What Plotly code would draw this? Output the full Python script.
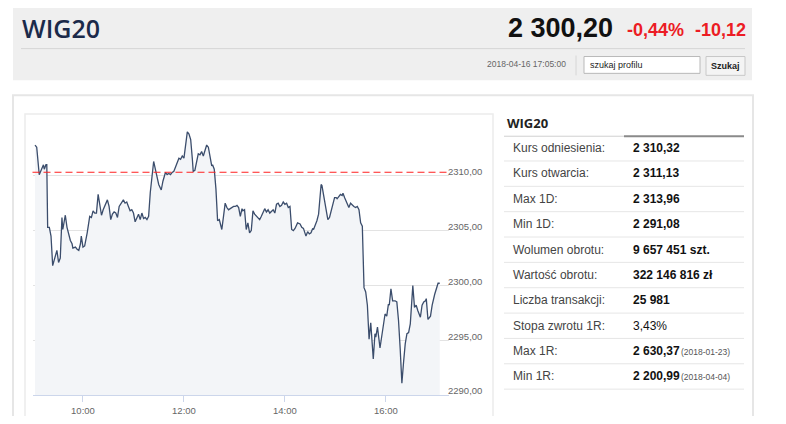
import pandas as pd
import plotly.graph_objects as go

# the page body adds an 8px margin on every side, so the figure is 16px
# smaller than the window and positions below are window pixels shifted by OFF
OFF = 8
W, H = 786 - 2 * OFF, 424 - 2 * OFF

# --- intraday WIG20 quotes, 2018-04-16 ---
times = ["09:03", "09:05", "09:08", "09:11", "09:13", "09:14", "09:16", "09:17", "09:18", "09:20",
         "09:22", "09:24", "09:27", "09:29", "09:31", "09:33", "09:35", "09:36", "09:39", "09:41",
         "09:45", "09:47", "09:48", "09:51", "09:53", "09:55", "09:57", "09:58", "10:00", "10:02",
         "10:05", "10:08", "10:10", "10:12", "10:14", "10:16", "10:18", "10:20", "10:22", "10:24",
         "10:26", "10:29", "10:31", "10:33", "10:35", "10:37", "10:39", "10:41", "10:43", "10:46",
         "10:48", "10:50", "10:52", "10:54", "10:56", "10:58", "11:00", "11:02", "11:04", "11:06",
         "11:08", "11:10", "11:12", "11:14", "11:16", "11:18", "11:20", "11:22", "11:24", "11:26",
         "11:28", "11:30", "11:33", "11:35", "11:38", "11:40", "11:42", "11:44", "11:46", "11:48",
         "11:50", "11:52", "11:54", "11:56", "11:58", "12:00", "12:01", "12:03", "12:04", "12:06",
         "12:08", "12:10", "12:11", "12:13", "12:15", "12:17", "12:19", "12:21", "12:23", "12:25",
         "12:27", "12:29", "12:31", "12:33", "12:34", "12:36", "12:38", "12:40", "12:42", "12:43",
         "12:45", "12:47", "12:49", "12:51", "12:53", "12:55", "12:59", "13:01", "13:03", "13:05",
         "13:07", "13:09", "13:10", "13:12", "13:14", "13:16", "13:18", "13:20", "13:22", "13:24",
         "13:26", "13:28", "13:30", "13:32", "13:34", "13:36", "13:38", "13:40", "13:42", "13:44",
         "13:46", "13:48", "13:50", "13:52", "13:54", "13:56", "13:58", "14:00", "14:02", "14:04",
         "14:06", "14:08", "14:10", "14:12", "14:15", "14:18", "14:20", "14:22", "14:24", "14:25",
         "14:27", "14:29", "14:31", "14:33", "14:34", "14:36", "14:38", "14:40", "14:42", "14:43",
         "14:44", "14:46", "14:48", "14:50", "14:51", "14:53", "14:55", "14:57", "14:59", "15:01",
         "15:02", "15:04", "15:06", "15:08", "15:09", "15:11", "15:13", "15:16", "15:18", "15:20",
         "15:22", "15:24", "15:26", "15:28", "15:30", "15:32", "15:34", "15:36", "15:38", "15:40",
         "15:42", "15:45", "15:47", "15:48", "15:50", "15:53", "15:55", "15:57", "15:59", "16:01",
         "16:03", "16:04", "16:06", "16:08", "16:11", "16:13", "16:15", "16:17", "16:19", "16:21",
         "16:23", "16:25", "16:27", "16:29", "16:32", "16:34", "16:36", "16:38", "16:41", "16:43",
         "16:45", "16:47", "16:48", "16:50", "16:53", "16:55", "16:58", "17:02", "17:04"]
prices = [2312.8, 2312.6, 2310.1, 2310.6, 2311.0, 2310.6, 2311.0, 2311.0, 2305.3, 2305.3,
          2304.5, 2301.8, 2302.8, 2303.2, 2302.1, 2302.5, 2306.2, 2305.1, 2306.4, 2305.3,
          2304.1, 2303.8, 2303.4, 2303.5, 2303.3, 2303.2, 2303.8, 2304.5, 2303.5, 2303.6,
          2304.8, 2306.3, 2306.2, 2306.8, 2306.6, 2306.6, 2308.3, 2307.4, 2306.4, 2306.9,
          2307.2, 2307.8, 2307.2, 2306.0, 2306.5, 2306.7, 2306.6, 2306.2, 2307.2, 2307.5,
          2307.8, 2307.5, 2307.6, 2307.2, 2306.8, 2306.9, 2306.6, 2305.8, 2306.2, 2306.5,
          2306.0, 2306.6, 2306.1, 2306.2, 2306.0, 2306.3, 2308.5, 2310.3, 2311.3, 2310.6,
          2310.0, 2309.2, 2308.7, 2309.5, 2310.3, 2310.1, 2310.2, 2310.1, 2310.3, 2310.4,
          2310.8, 2311.2, 2311.6, 2311.5, 2311.8, 2311.6, 2312.2, 2313.2, 2314.0, 2313.8,
          2313.3, 2311.5, 2310.4, 2310.5, 2311.3, 2312.0, 2311.9, 2312.2, 2311.8, 2312.4,
          2312.8, 2312.6, 2311.8, 2310.9, 2311.0, 2310.6, 2308.8, 2305.9, 2306.0, 2305.7,
          2305.1, 2306.3, 2307.5, 2307.1, 2306.9, 2307.0, 2307.2, 2307.2, 2307.3, 2307.1,
          2306.3, 2307.0, 2306.8, 2306.9, 2305.1, 2305.7, 2304.8, 2305.0, 2306.8, 2306.5,
          2306.3, 2306.2, 2306.0, 2306.3, 2306.7, 2307.0, 2306.7, 2306.9, 2306.6, 2306.8,
          2306.9, 2306.6, 2307.4, 2307.5, 2307.2, 2307.3, 2307.6, 2307.4, 2307.5, 2307.1,
          2307.2, 2305.1, 2305.0, 2305.2, 2305.7, 2305.6, 2305.3, 2305.2, 2304.8, 2304.5,
          2304.9, 2304.7, 2304.8, 2305.2, 2305.1, 2305.5, 2305.9, 2306.5, 2308.3, 2309.2,
          2309.1, 2308.2, 2307.1, 2306.4, 2306.0, 2306.2, 2306.8, 2307.5, 2308.0, 2308.0,
          2307.9, 2308.1, 2308.3, 2308.2, 2308.4, 2308.0, 2307.6, 2307.1, 2307.5, 2307.3,
          2307.2, 2307.1, 2307.2, 2306.9, 2305.7, 2305.4, 2299.8, 2299.4, 2298.2, 2295.1,
          2296.6, 2293.3, 2295.6, 2295.3, 2296.2, 2294.3, 2295.4, 2296.5, 2297.4, 2297.2,
          2298.3, 2298.2, 2299.7, 2298.6, 2298.6, 2298.5, 2296.8, 2294.2, 2291.1, 2293.0,
          2294.7, 2295.6, 2295.7, 2296.5, 2300.0, 2298.0, 2298.2, 2297.7, 2297.1, 2298.2,
          2298.5, 2298.6, 2298.8, 2296.9, 2297.2, 2298.2, 2299.2, 2300.2, 2300.2]

reference_price = 2310.32
y_ticks = [2290, 2295, 2300, 2305, 2310, 2315]
y_tick_text = ["2290,00", "2295,00", "2300,00", "2305,00", "2310,00", ""]
x_ticks = ["10:00", "12:00", "14:00", "16:00"]
day = "2018-04-16"

# --- side table ---
row_labels = ["Kurs odniesienia:", "Kurs otwarcia:", "Max 1D:", "Min 1D:", "Wolumen obrotu:",
              "Wartość obrotu:", "Liczba transakcji:", "Stopa zwrotu 1R:", "Max 1R:", "Min 1R:"]
row_values = ["2 310,32", "2 311,13", "2 313,96", "2 291,08", "9 657 451 szt.",
              "322 146 816 zł", "25 981", "3,43%", "2 630,37", "2 200,99"]
row_dates = ["", "", "", "", "", "", "", "", "(2018-01-23)", "(2018-04-04)"]

# --- header ---
index_name = "WIG20"
last_value = "2 300,20"
change_pct = "-0,44%"
change_abs = "-10,12"
timestamp = "2018-04-16 17:05:00"


def px(x):
    return (x - OFF) / W


def py(y):
    return 1 - (y - OFF) / H


x_dt = pd.to_datetime([day + " " + t for t in times])

fig = go.Figure()
fig.add_trace(go.Scatter(
    x=x_dt, y=prices, mode="lines",
    line=dict(color="#3b4d6c", width=1.3),
    fill="tozeroy", fillcolor="#f3f5f8",
    showlegend=False, hoverinfo="skip",
))

shapes = []
annots = []


def box(x0, y0, x1, y1, fill=None, line=None, lw=1):
    shapes.append(dict(type="rect", xref="paper", yref="paper", layer="below",
                       x0=px(x0), x1=px(x1), y0=py(y1), y1=py(y0),
                       fillcolor=fill or "rgba(0,0,0,0)",
                       line=dict(color=line or "rgba(0,0,0,0)", width=lw if line else 0)))


def hline(x0, x1, y, color, lw=1):
    shapes.append(dict(type="line", xref="paper", yref="paper",
                       x0=px(x0), x1=px(x1), y0=py(y), y1=py(y),
                       line=dict(color=color, width=lw)))


def txt(x, y, s, size, color, bold=False, anchor="left", family="Liberation Sans", weight=None):
    annots.append(dict(xref="paper", yref="paper", x=px(x), y=py(y), text=s,
                       showarrow=False, xanchor=anchor, yanchor="middle",
                       font=dict(size=size, color=color, family=family,
                                 weight=weight or ("bold" if bold else "normal"))))


# header block
box(13, 6, 752, 81, fill="#efefef")
hline(21, 745, 49, "#d6d6d6")
txt(20, 28, index_name, 25, "#1b2a4a", family="Open Sans", weight=600)
txt(615, 28, last_value, 27, "#111111", bold=True, anchor="right")
txt(625, 30, change_pct, 18, "#ec1c24", bold=True)
txt(693, 30, change_abs, 18, "#ec1c24", bold=True)
txt(568, 65, timestamp, 8.5, "#666666", anchor="right")
shapes.append(dict(type="line", xref="paper", yref="paper", x0=px(576), x1=px(576),
                   y0=py(76), y1=py(56), line=dict(color="#d6d6d6", width=1)))
box(584, 57, 700, 74, fill="#ffffff", line="#b9b9b9")
txt(588, 65.5, "szukaj profilu", 9, "#222222")
box(706, 57, 745, 76, fill="#f4f4f4", line="#c8c8c8")
txt(725.5, 66.5, "Szukaj", 9, "#222222", bold=True, anchor="center")

# content panels
box(13, 96, 753, 430, fill="#ffffff", line="#e6e6e6", lw=2)
box(25, 115, 493, 430, fill="#ffffff", line="#ececec", lw=1.5)

# table
txt(505, 124, index_name, 13, "#222222", bold=True, family="Open Sans")
hline(504, 624, 137.5, "#d0d0d0", 1)
hline(624, 744, 137.5, "#8a8a8a", 2)
row_h = 25.6
for i, lab in enumerate(row_labels):
    yc = 149.5 + i * row_h
    txt(511, yc, lab, 12, "#444444")
    txt(631, yc, row_values[i], 12, "#111111", bold=(lab != "Stopa zwrotu 1R:"))
    if row_dates[i]:
        txt(679, yc + 1, row_dates[i], 8.5, "#555555")
    hline(504, 744, 162.5 + i * row_h, "#e6e6e6", 1)

# reference line
shapes.append(dict(type="line", xref="x domain", yref="y", x0=0, x1=1,
                   y0=reference_price, y1=reference_price,
                   line=dict(color="#ff2020", width=1.2, dash="7px,4px")))

fig.update_layout(
    width=W, height=H, margin=dict(l=0, r=0, t=0, b=0),
    paper_bgcolor="#ffffff", plot_bgcolor="rgba(0,0,0,0)",
    shapes=shapes, annotations=annots,
    xaxis=dict(
        type="date", domain=[px(32.5), px(449)],
        range=[day + " 09:00", day + " 17:15"],
        tickvals=[day + " " + t for t in x_ticks], ticktext=x_ticks,
        showgrid=False, zeroline=False,
        showline=True, linecolor="#ccd6eb", linewidth=1,
        ticks="outside", ticklen=6, tickcolor="#ccd6eb",
        tickfont=dict(size=9.5, color="#666666", family="Liberation Sans"),
    ),
    yaxis=dict(
        domain=[py(399), py(122)], range=[2290, 2315],
        side="right", tickvals=y_ticks, ticktext=y_tick_text,
        showgrid=True, gridcolor="#e3e3e3", gridwidth=1.3,
        zeroline=False, showline=False, ticks="",
        ticklabelstandoff=-2, ticklabelshift=-4,
        tickfont=dict(size=9.5, color="#666666", family="Liberation Sans"),
    ),
)

fig.write_html("out.html")
